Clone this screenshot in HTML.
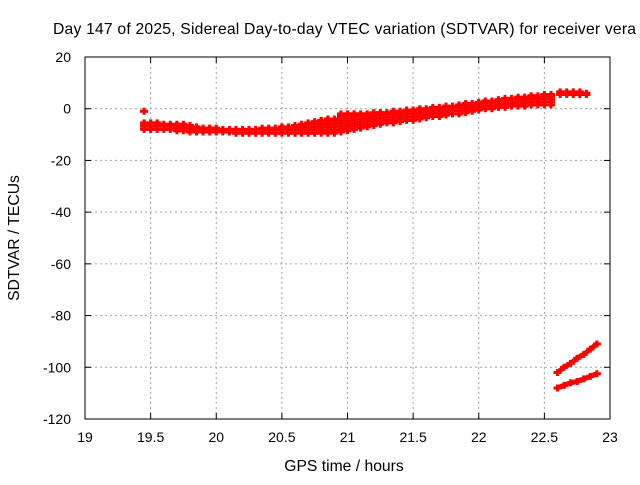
<!DOCTYPE html>
<html><head><meta charset="utf-8"><style>
body{margin:0;background:#fff;font-family:"Liberation Sans",sans-serif}
text{font-family:"Liberation Sans",sans-serif;font-size:14px;fill:#000}
.big{font-size:15.7px}
</style></head><body>
<svg id="chart" width="640" height="480" xmlns="http://www.w3.org/2000/svg">
<text class="big" x="53" y="34" textLength="583">Day 147 of 2025, Sidereal Day-to-day VTEC variation (SDTVAR) for receiver vera</text>
<text class="big" x="344" y="471" text-anchor="middle">GPS time / hours</text>
<text class="big" transform="translate(19,238) rotate(-90)" text-anchor="middle">SDTVAR / TECUs</text>
<g id="grid"></g><g id="ticks"></g><g id="marks"></g>
<rect x="85" y="57" width="525" height="362" fill="none" stroke="#000" stroke-width="1"/>
</svg>
<script>
const xTicks=[19,19.5,20,20.5,21,21.5,22,22.5,23];
const yTicks=[20,0,-20,-40,-60,-80,-100,-120];
const bandTimes=[19.45,19.5,19.55,19.6,19.65,19.7,19.75,19.8,19.85,19.9,19.95,20.0,20.05,20.1,20.15,20.2,20.25,20.3,20.35,20.4,20.45,20.5,20.55,20.6,20.65,20.7,20.75,20.8,20.85,20.9,20.95,21.0,21.05,21.1,21.15,21.2,21.25,21.3,21.35,21.4,21.45,21.5,21.55,21.6,21.65,21.7,21.75,21.8,21.85,21.9,21.95,22.0,22.05,22.1,22.15,22.2,22.25,22.3,22.35,22.4,22.45,22.5,22.55,22.62,22.67,22.72,22.77,22.82];
const bandUpper=[-5.5,-5.5,-5.5,-6,-6,-6,-6,-6.5,-7,-7.5,-7.5,-7.5,-8,-8,-8,-8,-8,-8,-7.5,-7.5,-7.5,-7,-7,-6.5,-6,-5.5,-5,-4.5,-4,-4,-2,-2,-2,-2,-2,-1.5,-1.5,-1.5,-1,-1,-0.5,-0.5,0,0,0.5,0.5,1,1,1.5,2,2,2.5,3,3,3.5,4,4,4.5,4.5,5,5,5.5,5.5,6.5,6.5,6.5,6.5,6];
const bandLower=[-8,-8,-8,-8,-8,-8.5,-8.5,-9,-9,-9,-9,-9,-9,-9,-9.5,-9.5,-9.5,-9.5,-9.5,-9.5,-9.5,-9.5,-9.5,-9.5,-9.5,-9.5,-9.5,-9.5,-9.5,-9.5,-9,-8.5,-8,-7.5,-7,-6.5,-6,-5.5,-5.5,-5,-4.5,-4.5,-4,-3.5,-3,-3,-2.5,-2,-2,-1.5,-1,-0.5,0,0,0.5,0.5,1,1,1,1.5,1.5,1.5,1.5,5.5,5.5,5.5,5.5,5.5];
const isoTimes=[19.45];
const isoValues=[-1];
const lineATimes=[22.6,22.65,22.7,22.75,22.8,22.85,22.9];
const lineAValues=[-102,-100,-98.5,-96.5,-95,-93,-91];
const lineBTimes=[22.6,22.65,22.7,22.75,22.8,22.85,22.9];
const lineBValues=[-108,-107,-106,-105.5,-104.5,-103.5,-102.5];
const X=v=>85+(v-19)/4*525;
const Y=v=>57+(20-v)/140*362;
const NS='http://www.w3.org/2000/svg';
function mk(tag,attrs,parent){const e=document.createElementNS(NS,tag);for(const k in attrs)e.setAttribute(k,attrs[k]);parent.appendChild(e);return e;}
const grid=document.getElementById('grid'),ticks=document.getElementById('ticks'),marks=document.getElementById('marks');
xTicks.forEach(t=>{
 if(t>19&&t<23){const g=mk('line',{x1:X(t),x2:X(t),y1:57,y2:419,stroke:'#a0a0a0','stroke-dasharray':'2,3'},grid);
 
 }
 mk('line',{x1:X(t),x2:X(t),y1:419,y2:413,stroke:'#000'},ticks);
 mk('line',{x1:X(t),x2:X(t),y1:57,y2:63,stroke:'#000'},ticks);
 const l=mk('text',{x:X(t),y:442,'text-anchor':'middle'},ticks);l.textContent=t;
 
 
});
yTicks.forEach(t=>{
 if(t<20&&t>-120){const g=mk('line',{x1:85,x2:610,y1:Y(t),y2:Y(t),stroke:'#a0a0a0','stroke-dasharray':'2,3'},grid);
 
 }
 mk('line',{x1:85,x2:91,y1:Y(t),y2:Y(t),stroke:'#000'},ticks);
 mk('line',{x1:610,x2:604,y1:Y(t),y2:Y(t),stroke:'#000'},ticks);
 const l=mk('text',{x:71,y:Y(t)+5,'text-anchor':'end'},ticks);l.textContent=t;
 
 
});
function plus(t,v){
 const g=mk('path',{d:`M${X(t)-4},${Y(v)}h8M${X(t)},${Y(v)-3.5}v7`,stroke:'#f00','stroke-width':3,fill:'none'},marks);
 
 
}
bandTimes.forEach((t,i)=>{
 for(let v=bandLower[i];v<=bandUpper[i]+0.01;v+=1.2)plus(t,v);
 plus(t,bandUpper[i]);
});
isoTimes.forEach((t,i)=>plus(t,isoValues[i]));
function line(ts,vs,name){
 const p=mk('polyline',{points:ts.map((t,i)=>X(t)+','+Y(vs[i])).join(' '),stroke:'#f00','stroke-width':5,fill:'none'},marks);
 
 
 ts.forEach((t,i)=>plus(t,vs[i]));
}
line(lineATimes,lineAValues,'upper-trace');
line(lineBTimes,lineBValues,'lower-trace');
</script>
</body></html>
